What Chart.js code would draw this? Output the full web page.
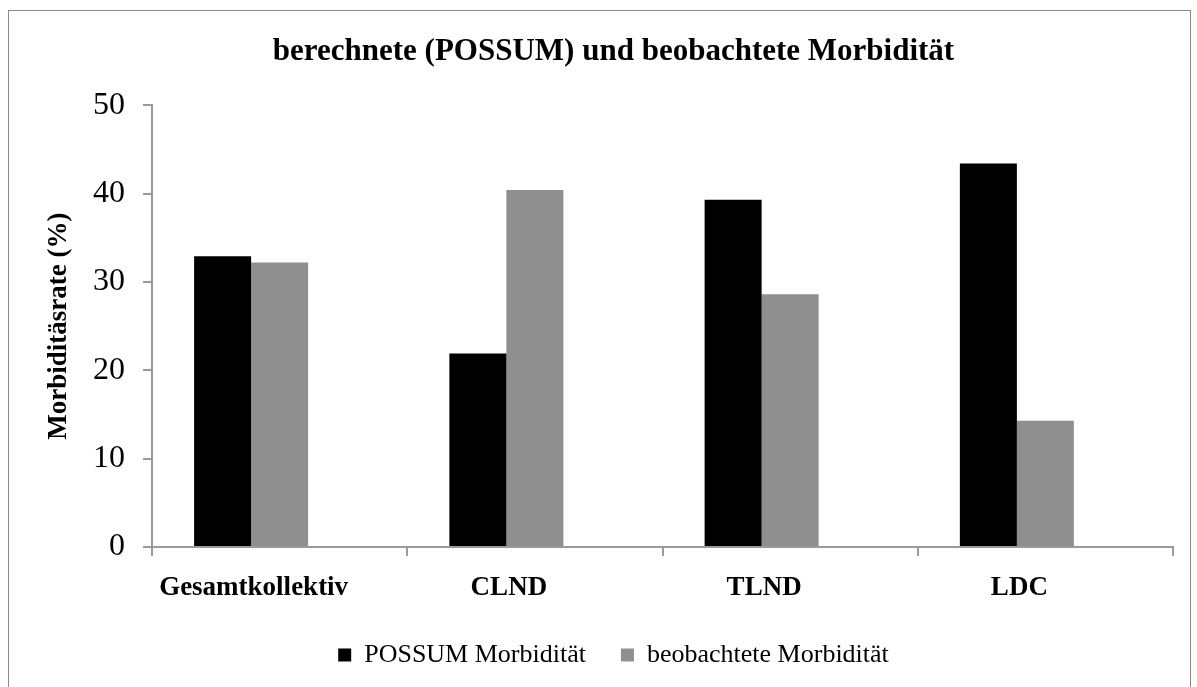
<!DOCTYPE html>
<html>
<head>
<meta charset="utf-8">
<script src="https://cdn.jsdelivr.net/npm/chart.js@4.4.1/dist/chart.umd.min.js"></script>
<style>
  body { margin: 0; background: #fff; }
  #frame { position: absolute; left: 8px; top: 10px; width: 1181px; height: 700px; border: 1px solid #8a8a8a; }
  #chart { position: absolute; left: 0; top: 0; }
</style>
</head>
<body>
<div id="frame"></div>
<canvas id="chart" width="1197" height="687"></canvas>
<script>
// Werte
var categories = ["Gesamtkollektiv", "CLND", "TLND", "LDC"];
var possumMorb = [32.9, 21.9, 39.3, 43.4];
var observedMorb = [32.2, 40.4, 28.6, 14.3];
var emptySeries = [null, null, null, null]; // leere Reihe wie im Original (verschiebt die Balken)
var yTicks = [0, 10, 20, 30, 40, 50];

var serif = "'Liberation Serif', 'Times New Roman', serif";
var axisGray = "#9a9a9a";

document.addEventListener("DOMContentLoaded", function () {
  var canvas = document.getElementById("chart");

  new Chart(canvas, {
    type: "bar",
    data: {
      labels: categories,
      datasets: [
        { label: "POSSUM Morbidität", data: possumMorb, backgroundColor: "#000000" },
        { label: "beobachtete Morbidität", data: observedMorb, backgroundColor: "#8f8f8f" },
        { label: "", data: emptySeries, backgroundColor: "#ffffff" },
      ],
    },
    options: {
      responsive: false,
      animation: false,
      devicePixelRatio: 1,
      layout: { padding: { left: 54, right: 24, top: 0, bottom: 9 } },
      datasets: { bar: { categoryPercentage: 0.67, barPercentage: 1.0 } },
      plugins: {
        tooltip: { enabled: false },
        title: {
          display: true,
          text: "berechnete (POSSUM) und beobachtete Morbidität",
          color: "#000",
          font: { family: serif, size: 31, weight: "bold" },
          padding: { top: 33, bottom: 35 },
        },
        legend: {
          position: "bottom",
          labels: {
            color: "#000",
            font: { family: serif, size: 26 },
            boxWidth: 13,
            boxHeight: 13,
            padding: 35,
            filter: function (item) { return item.text !== ""; },
          },
        },
      },
      scales: {
        x: {
          grid: { drawOnChartArea: false, color: axisGray, tickLength: 9, lineWidth: 2 },
          border: { color: axisGray, width: 2 },
          ticks: {
            color: "#000",
            font: { family: serif, size: 27, weight: "bold" },
            padding: 16,
            labelOffset: -26,
          },
          afterFit: function (scale) { scale.height = 60; },
        },
        y: {
          min: 0,
          max: 50,
          afterBuildTicks: function (scale) {
            scale.ticks = yTicks.map(function (v) { return { value: v }; });
          },
          grid: { drawOnChartArea: false, color: axisGray, tickLength: 9, lineWidth: 2 },
          border: { color: axisGray, width: 2 },
          ticks: { color: "#000", font: { family: serif, size: 32 }, padding: 18 },
          title: {
            display: true,
            text: "Morbiditäsrate (%)",
            color: "#000",
            font: { family: serif, size: 27, weight: "bold" },
            padding: { top: -11, bottom: 0 },
          },
          afterFit: function (scale) { scale.width = 98; },
        },
      },
    },
  });
});
</script>
</body>
</html>
